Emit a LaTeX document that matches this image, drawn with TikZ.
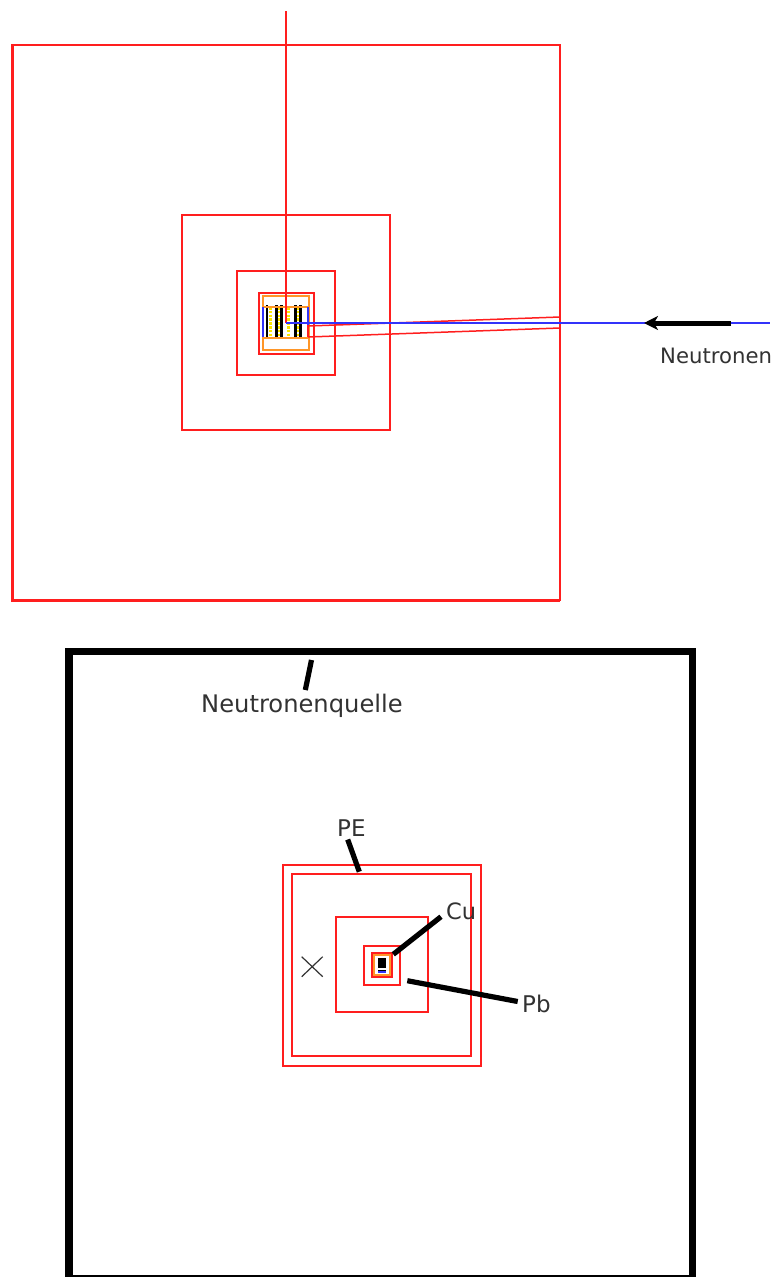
\documentclass[tikz,border=0pt]{standalone}
\usepackage{fontspec}
\setmainfont{DejaVu Sans}
\usetikzlibrary{arrows.meta}
\definecolor{shieldred}{RGB}{255,30,30}
\definecolor{beamblue}{RGB}{50,50,250}
\definecolor{linerorange}{RGB}{255,150,40}
\definecolor{labelgray}{RGB}{50,50,50}
\definecolor{dashyellow}{RGB}{250,230,0}
\tikzset{
  shield/.style={draw=shieldred,line width=1.5pt},
  shieldthick/.style={draw=shieldred,line width=3pt},
  liner/.style={draw=linerorange,line width=1.6pt},
  linerthick/.style={draw=linerorange,line width=2.4pt},
  beam/.style={draw=beamblue,line width=1.5pt},
  detbar/.style={draw=black,line width=3pt},
  detbarthin/.style={draw=black,line width=1.6pt},
  foil/.style={draw=dashyellow,dash pattern=on 2.6pt off 1.2pt},
  leader/.style={draw=black,line width=5.2pt},
  lab/.style={text=labelgray,inner sep=0pt,anchor=base west},
}
\begin{document}
\begin{tikzpicture}[x=1pt,y=-1pt]
\useasboundingbox (0,0) rectangle (777,1277);
\clip (0,0) rectangle (777,1277);
% upper view
\draw[shield] (12,45) rectangle (560,600);
\draw[shieldthick] (12,45) -- (12,600) -- (560,600);
\draw[shield] (182,215) rectangle (390,430);
\draw[shield] (237,271) rectangle (335,375);
\draw[shield,line width=1.7pt] (259,293) rectangle (314,354);
\draw[liner] (263,296) rectangle (309,350);
\foreach \x in {270,288.5}{\draw[foil,line width=3pt] (\x,307)--(\x,338);}
\foreach \x in {279,298}{\draw[foil,line width=2pt] (\x,307)--(\x,338);}
\draw[detbarthin] (267,305) -- (267,339);
\foreach \x in {276.7,281.7,295,300}{\draw[detbar] (\x,305) -- (\x,339);}
\draw[linerthick,line width=1.8pt] (263,307) -- (309,307);
\draw[linerthick] (263,338) -- (309,338);
\draw[beam,line width=2pt] (263,307) -- (263,337);
\draw[beam,line width=1.8pt] (308,307) -- (308,325);
\draw[shield] (286,11) -- (286,323);
\draw[shield,line width=2pt] (308,325) -- (308,337);
\draw[shield] (308,326) -- (560,317);
\draw[shield] (308,337) -- (560,328);
\draw[beam] (286,323) -- (770,323);
\coordinate (arrowstart) at (731,323);
\coordinate (arrowend) at (644,323);
\draw[black,line width=5pt,-{Stealth[length=14pt,width=14pt,inset=4pt]}] (arrowstart) -- (arrowend);
\node[lab,font=\fontsize{21.2}{24}\selectfont] (neutronen) at (660,363) {Neutronen};
% lower view
\draw[black,line width=7.8pt] (69,651.5) rectangle (692.5,1279);
\draw[shield] (283,865) rectangle (481,1066);
\draw[shield] (292,874) rectangle (471,1056);
\draw[shield] (336,917) rectangle (428,1012);
\draw[shield] (364,946) rectangle (400,985);
\draw[shield,line width=2.4pt] (372,953) rectangle (392,977);
\draw[liner] (374,955) rectangle (390,975);
\fill[black] (378,958) rectangle (386,968);
\draw[black,line width=1pt] (378,970) -- (386,970);
\draw[beamblue,line width=1.8pt] (378,972) -- (386,972);
% cross
\draw[labelgray,line width=1.2pt] (301.7,956.7) -- (322.7,976.7);
\draw[labelgray,line width=1.2pt] (322.7,956.7) -- (301.7,976.7);
% labels and leaders
\node[lab,font=\fontsize{24.2}{27}\selectfont] (quelle) at (201,712.5) {Neutronenquelle};
\node[lab,font=\fontsize{23}{26}\selectfont] (pe) at (337,836) {PE};
\node[lab,font=\fontsize{22.5}{26}\selectfont] (cu) at (446,919) {Cu};
\node[lab,font=\fontsize{23}{26}\selectfont] (pb) at (522,1012) {Pb};
\coordinate (quelleA) at (311.5,660);
\coordinate (quelleB) at (305.3,690);
\coordinate (peA) at (347.7,839.5);
\coordinate (peB) at (359.3,871.7);
\coordinate (cuA) at (441,916.7);
\coordinate (cuB) at (393.3,954.3);
\coordinate (pbA) at (517.7,1001.5);
\coordinate (pbB) at (407.3,980.7);
\draw[leader] (quelleA) -- (quelleB);
\draw[leader] (peA) -- (peB);
\draw[leader] (cuA) -- (cuB);
\draw[leader] (pbA) -- (pbB);
\end{tikzpicture}
\end{document}
